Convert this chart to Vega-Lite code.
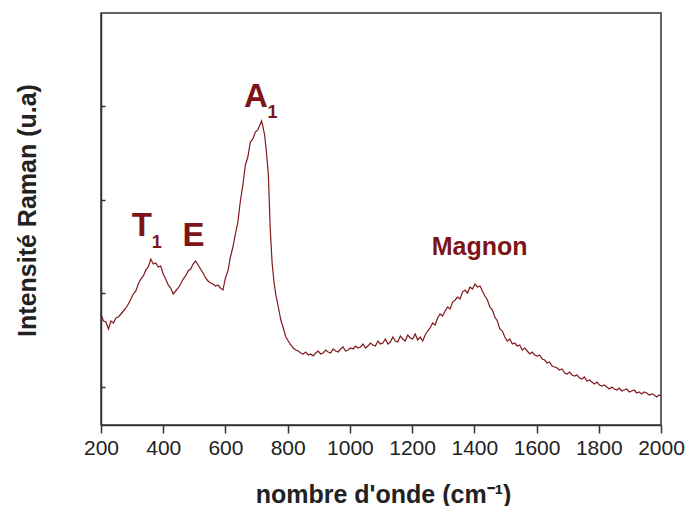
{
  "$schema": "https://vega.github.io/schema/vega-lite/v6.json",
  "width": 560,
  "height": 412,
  "autosize": {"type": "none"},
  "padding": {"left": 101, "top": 13, "right": 27, "bottom": 81},
  "background": "white",
  "config": {
    "font": "Liberation Sans",
    "view": {"stroke": "#333333", "strokeWidth": 1.5},
    "axis": {"domainColor": "#333333", "domainWidth": 1.5, "tickColor": "#333333", "tickWidth": 1.5, "grid": false, "labelColor": "#222222", "titleColor": "#222222"}
  },
  "datasets": {
    "spectrum": [
      {"wavenumber": 200, "intensity": 111}, {"wavenumber": 208, "intensity": 104}, {"wavenumber": 216, "intensity": 103}, {"wavenumber": 224, "intensity": 96},
      {"wavenumber": 232, "intensity": 104}, {"wavenumber": 240, "intensity": 102}, {"wavenumber": 248, "intensity": 107}, {"wavenumber": 256, "intensity": 108},
      {"wavenumber": 264, "intensity": 111}, {"wavenumber": 272, "intensity": 114}, {"wavenumber": 280, "intensity": 117}, {"wavenumber": 288, "intensity": 121},
      {"wavenumber": 296, "intensity": 126}, {"wavenumber": 304, "intensity": 131}, {"wavenumber": 312, "intensity": 134}, {"wavenumber": 320, "intensity": 141},
      {"wavenumber": 328, "intensity": 146}, {"wavenumber": 336, "intensity": 149}, {"wavenumber": 344, "intensity": 155}, {"wavenumber": 352, "intensity": 158},
      {"wavenumber": 360, "intensity": 166}, {"wavenumber": 368, "intensity": 161}, {"wavenumber": 376, "intensity": 162}, {"wavenumber": 384, "intensity": 158},
      {"wavenumber": 392, "intensity": 159}, {"wavenumber": 400, "intensity": 151}, {"wavenumber": 408, "intensity": 146}, {"wavenumber": 416, "intensity": 140},
      {"wavenumber": 424, "intensity": 137}, {"wavenumber": 432, "intensity": 131}, {"wavenumber": 440, "intensity": 134}, {"wavenumber": 448, "intensity": 137},
      {"wavenumber": 456, "intensity": 141}, {"wavenumber": 464, "intensity": 146}, {"wavenumber": 472, "intensity": 149}, {"wavenumber": 480, "intensity": 154},
      {"wavenumber": 488, "intensity": 156}, {"wavenumber": 496, "intensity": 161}, {"wavenumber": 504, "intensity": 164}, {"wavenumber": 512, "intensity": 160},
      {"wavenumber": 520, "intensity": 156}, {"wavenumber": 528, "intensity": 152}, {"wavenumber": 536, "intensity": 147}, {"wavenumber": 544, "intensity": 144},
      {"wavenumber": 552, "intensity": 142}, {"wavenumber": 560, "intensity": 141}, {"wavenumber": 568, "intensity": 139}, {"wavenumber": 576, "intensity": 140},
      {"wavenumber": 584, "intensity": 137}, {"wavenumber": 592, "intensity": 135}, {"wavenumber": 600, "intensity": 147}, {"wavenumber": 608, "intensity": 154},
      {"wavenumber": 616, "intensity": 168}, {"wavenumber": 624, "intensity": 178}, {"wavenumber": 632, "intensity": 191}, {"wavenumber": 640, "intensity": 203},
      {"wavenumber": 648, "intensity": 224}, {"wavenumber": 656, "intensity": 240}, {"wavenumber": 664, "intensity": 260}, {"wavenumber": 672, "intensity": 268},
      {"wavenumber": 680, "intensity": 283}, {"wavenumber": 688, "intensity": 286}, {"wavenumber": 696, "intensity": 293}, {"wavenumber": 704, "intensity": 295},
      {"wavenumber": 712, "intensity": 301}, {"wavenumber": 716, "intensity": 304}, {"wavenumber": 720, "intensity": 299}, {"wavenumber": 726, "intensity": 290},
      {"wavenumber": 732, "intensity": 272}, {"wavenumber": 738, "intensity": 250}, {"wavenumber": 744, "intensity": 196}, {"wavenumber": 750, "intensity": 162},
      {"wavenumber": 756, "intensity": 143}, {"wavenumber": 762, "intensity": 130}, {"wavenumber": 770, "intensity": 118}, {"wavenumber": 778, "intensity": 105},
      {"wavenumber": 786, "intensity": 97}, {"wavenumber": 794, "intensity": 88}, {"wavenumber": 802, "intensity": 84}, {"wavenumber": 810, "intensity": 80},
      {"wavenumber": 818, "intensity": 77}, {"wavenumber": 826, "intensity": 75}, {"wavenumber": 834, "intensity": 74}, {"wavenumber": 842, "intensity": 72},
      {"wavenumber": 850, "intensity": 71}, {"wavenumber": 858, "intensity": 73}, {"wavenumber": 866, "intensity": 70}, {"wavenumber": 874, "intensity": 71},
      {"wavenumber": 882, "intensity": 69}, {"wavenumber": 890, "intensity": 72}, {"wavenumber": 898, "intensity": 74}, {"wavenumber": 906, "intensity": 71},
      {"wavenumber": 914, "intensity": 72}, {"wavenumber": 922, "intensity": 75}, {"wavenumber": 930, "intensity": 73}, {"wavenumber": 938, "intensity": 72},
      {"wavenumber": 946, "intensity": 76}, {"wavenumber": 954, "intensity": 74}, {"wavenumber": 962, "intensity": 73}, {"wavenumber": 970, "intensity": 76},
      {"wavenumber": 978, "intensity": 78}, {"wavenumber": 986, "intensity": 74}, {"wavenumber": 994, "intensity": 75}, {"wavenumber": 1002, "intensity": 77},
      {"wavenumber": 1010, "intensity": 76}, {"wavenumber": 1018, "intensity": 79}, {"wavenumber": 1026, "intensity": 77}, {"wavenumber": 1034, "intensity": 78},
      {"wavenumber": 1042, "intensity": 81}, {"wavenumber": 1050, "intensity": 77}, {"wavenumber": 1058, "intensity": 79}, {"wavenumber": 1066, "intensity": 82},
      {"wavenumber": 1074, "intensity": 80}, {"wavenumber": 1082, "intensity": 79}, {"wavenumber": 1090, "intensity": 84}, {"wavenumber": 1098, "intensity": 81},
      {"wavenumber": 1106, "intensity": 82}, {"wavenumber": 1114, "intensity": 86}, {"wavenumber": 1122, "intensity": 81}, {"wavenumber": 1130, "intensity": 83},
      {"wavenumber": 1138, "intensity": 88}, {"wavenumber": 1146, "intensity": 84}, {"wavenumber": 1154, "intensity": 83}, {"wavenumber": 1162, "intensity": 89},
      {"wavenumber": 1170, "intensity": 86}, {"wavenumber": 1178, "intensity": 84}, {"wavenumber": 1186, "intensity": 90}, {"wavenumber": 1194, "intensity": 87},
      {"wavenumber": 1202, "intensity": 86}, {"wavenumber": 1210, "intensity": 91}, {"wavenumber": 1218, "intensity": 85}, {"wavenumber": 1226, "intensity": 88},
      {"wavenumber": 1234, "intensity": 84}, {"wavenumber": 1242, "intensity": 90}, {"wavenumber": 1250, "intensity": 94}, {"wavenumber": 1258, "intensity": 97},
      {"wavenumber": 1266, "intensity": 102}, {"wavenumber": 1274, "intensity": 100}, {"wavenumber": 1282, "intensity": 107}, {"wavenumber": 1290, "intensity": 111},
      {"wavenumber": 1298, "intensity": 109}, {"wavenumber": 1306, "intensity": 114}, {"wavenumber": 1314, "intensity": 118}, {"wavenumber": 1322, "intensity": 116},
      {"wavenumber": 1330, "intensity": 123}, {"wavenumber": 1338, "intensity": 125}, {"wavenumber": 1346, "intensity": 128}, {"wavenumber": 1354, "intensity": 126},
      {"wavenumber": 1362, "intensity": 133}, {"wavenumber": 1370, "intensity": 135}, {"wavenumber": 1378, "intensity": 132}, {"wavenumber": 1386, "intensity": 138},
      {"wavenumber": 1394, "intensity": 136}, {"wavenumber": 1402, "intensity": 141}, {"wavenumber": 1410, "intensity": 138}, {"wavenumber": 1418, "intensity": 139},
      {"wavenumber": 1426, "intensity": 134}, {"wavenumber": 1434, "intensity": 129}, {"wavenumber": 1442, "intensity": 125}, {"wavenumber": 1450, "intensity": 118},
      {"wavenumber": 1458, "intensity": 115}, {"wavenumber": 1466, "intensity": 108}, {"wavenumber": 1474, "intensity": 104}, {"wavenumber": 1482, "intensity": 96},
      {"wavenumber": 1490, "intensity": 94}, {"wavenumber": 1498, "intensity": 88}, {"wavenumber": 1506, "intensity": 84}, {"wavenumber": 1514, "intensity": 86},
      {"wavenumber": 1522, "intensity": 81}, {"wavenumber": 1530, "intensity": 82}, {"wavenumber": 1538, "intensity": 79}, {"wavenumber": 1546, "intensity": 80},
      {"wavenumber": 1554, "intensity": 75}, {"wavenumber": 1562, "intensity": 77}, {"wavenumber": 1570, "intensity": 74}, {"wavenumber": 1578, "intensity": 71},
      {"wavenumber": 1586, "intensity": 73}, {"wavenumber": 1594, "intensity": 70}, {"wavenumber": 1602, "intensity": 69}, {"wavenumber": 1610, "intensity": 70},
      {"wavenumber": 1618, "intensity": 66}, {"wavenumber": 1626, "intensity": 65}, {"wavenumber": 1634, "intensity": 62}, {"wavenumber": 1642, "intensity": 63},
      {"wavenumber": 1650, "intensity": 59}, {"wavenumber": 1658, "intensity": 58}, {"wavenumber": 1666, "intensity": 57}, {"wavenumber": 1674, "intensity": 55},
      {"wavenumber": 1682, "intensity": 56}, {"wavenumber": 1690, "intensity": 52}, {"wavenumber": 1698, "intensity": 51}, {"wavenumber": 1706, "intensity": 53},
      {"wavenumber": 1714, "intensity": 50}, {"wavenumber": 1722, "intensity": 49}, {"wavenumber": 1730, "intensity": 50}, {"wavenumber": 1738, "intensity": 47},
      {"wavenumber": 1746, "intensity": 46}, {"wavenumber": 1754, "intensity": 48}, {"wavenumber": 1762, "intensity": 44}, {"wavenumber": 1770, "intensity": 45},
      {"wavenumber": 1778, "intensity": 43}, {"wavenumber": 1786, "intensity": 41}, {"wavenumber": 1794, "intensity": 43}, {"wavenumber": 1802, "intensity": 40},
      {"wavenumber": 1810, "intensity": 39}, {"wavenumber": 1818, "intensity": 40}, {"wavenumber": 1826, "intensity": 38}, {"wavenumber": 1834, "intensity": 36},
      {"wavenumber": 1842, "intensity": 38}, {"wavenumber": 1850, "intensity": 36}, {"wavenumber": 1858, "intensity": 35}, {"wavenumber": 1866, "intensity": 37},
      {"wavenumber": 1874, "intensity": 34}, {"wavenumber": 1882, "intensity": 35}, {"wavenumber": 1890, "intensity": 36}, {"wavenumber": 1898, "intensity": 33},
      {"wavenumber": 1906, "intensity": 34}, {"wavenumber": 1914, "intensity": 35}, {"wavenumber": 1922, "intensity": 32}, {"wavenumber": 1930, "intensity": 33},
      {"wavenumber": 1938, "intensity": 31}, {"wavenumber": 1946, "intensity": 33}, {"wavenumber": 1954, "intensity": 32}, {"wavenumber": 1962, "intensity": 30},
      {"wavenumber": 1970, "intensity": 31}, {"wavenumber": 1978, "intensity": 30}, {"wavenumber": 1986, "intensity": 28}, {"wavenumber": 1994, "intensity": 30},
      {"wavenumber": 2000, "intensity": 29}
    ],
    "peaks": [
      {"wavenumber": 331, "intensity": 189, "label": "T"},
      {"wavenumber": 497, "intensity": 179, "label": "E"},
      {"wavenumber": 698, "intensity": 318, "label": "A"}
    ],
    "subscripts": [
      {"wavenumber": 379, "intensity": 177, "label": "1"},
      {"wavenumber": 751, "intensity": 307, "label": "1"}
    ],
    "bands": [
      {"wavenumber": 1417, "intensity": 170, "label": "Magnon"}
    ]
  },
  "layer": [
    {
      "data": {"name": "spectrum"},
      "mark": {"type": "line", "color": "#80191c", "strokeWidth": 1.2},
      "encoding": {
        "x": {
          "field": "wavenumber", "type": "quantitative",
          "scale": {"domain": [200, 2000], "nice": false, "zero": false},
          "axis": {
            "values": [200, 300, 400, 500, 600, 700, 800, 900, 1000, 1100, 1200, 1300, 1400, 1500, 1600, 1700, 1800, 1900, 2000],
            "format": "d",
            "labelExpr": "datum.value % 200 === 0 ? datum.label : ''",
            "tickSize": {"condition": {"test": "datum.value % 200 === 0", "value": 8}, "value": 4},
            "labelFontSize": 21, "labelPadding": 4, "labelFlush": false, "labelOverlap": false, "labelBound": false,
            "title": "nombre d'onde (cm⁻¹)",
            "titleFontSize": 25, "titleFontWeight": "bold",
            "titleX": 282, "titleY": 77, "titleBaseline": "alphabetic", "titleAlign": "center"
          }
        },
        "y": {
          "field": "intensity", "type": "quantitative",
          "scale": {"domain": [0, 412], "nice": false, "zero": false},
          "axis": {
            "values": [38, 131.7, 225.4, 319.1],
            "labels": false,
            "tickSize": -4,
            "title": "Intensité Raman (u.a)",
            "titleFontSize": 25, "titleFontWeight": "bold",
            "titleX": -74, "titleY": 197, "titleBaseline": "middle", "titleAlign": "center", "titleAngle": -90
          }
        }
      }
    },
    {
      "data": {"name": "peaks"},
      "mark": {"type": "text", "fontSize": 33, "fontWeight": "bold", "color": "#7d1518", "baseline": "alphabetic", "align": "center"},
      "encoding": {
        "x": {"field": "wavenumber", "type": "quantitative"},
        "y": {"field": "intensity", "type": "quantitative"},
        "text": {"field": "label"}
      }
    },
    {
      "data": {"name": "subscripts"},
      "mark": {"type": "text", "fontSize": 18, "fontWeight": "bold", "color": "#7d1518", "baseline": "alphabetic", "align": "center"},
      "encoding": {
        "x": {"field": "wavenumber", "type": "quantitative"},
        "y": {"field": "intensity", "type": "quantitative"},
        "text": {"field": "label"}
      }
    },
    {
      "data": {"name": "bands"},
      "mark": {"type": "text", "fontSize": 25, "fontWeight": "bold", "color": "#7d1518", "baseline": "alphabetic", "align": "center"},
      "encoding": {
        "x": {"field": "wavenumber", "type": "quantitative"},
        "y": {"field": "intensity", "type": "quantitative"},
        "text": {"field": "label"}
      }
    }
  ]
}
